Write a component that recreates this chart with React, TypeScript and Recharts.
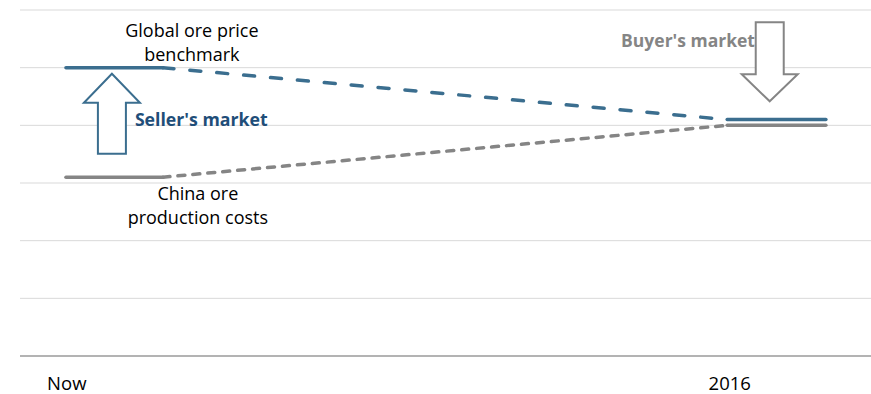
import React from "react";
import { LineChart, Line, XAxis, YAxis, CartesianGrid, ReferenceDot } from "recharts";

const xTickValues = [5.5, 83.4];
const xTickLabels = ["Now", "2016"];
const yTicks = [0, 1, 2, 3, 4, 5, 6];

const globalNow = [
  { x: 5.4, y: 5.0 },
  { x: 16.8, y: 5.0 },
];
const globalTransition = [
  { x: 16.8, y: 5.0 },
  { x: 83.1, y: 4.1 },
];
const global2016 = [
  { x: 83.1, y: 4.1 },
  { x: 94.7, y: 4.1 },
];
const chinaNow = [
  { x: 5.4, y: 3.1 },
  { x: 16.8, y: 3.1 },
];
const chinaTransition = [
  { x: 16.8, y: 3.1 },
  { x: 83.1, y: 4.0 },
];
const china2016 = [
  { x: 83.1, y: 4.0 },
  { x: 94.7, y: 4.0 },
];

const BLUE = "#3B6E8F";
const GRAY = "#858585";
const FONT = "'Open Sans', Lato, sans-serif";

const upArrow = (props: any) => {
  const { cx, cy } = props;
  const d = `M ${cx} ${cy - 40} L ${cx + 28} ${cy - 11} L ${cx + 14} ${cy - 11} L ${cx + 14} ${cy + 40} L ${cx - 14} ${cy + 40} L ${cx - 14} ${cy - 11} L ${cx - 28} ${cy - 11} Z`;
  return <path d={d} fill="#fff" stroke={BLUE} strokeWidth={2} />;
};

const downArrow = (props: any) => {
  const { cx, cy } = props;
  const d = `M ${cx} ${cy + 40} L ${cx + 28} ${cy + 13} L ${cx + 14} ${cy + 13} L ${cx + 14} ${cy - 39} L ${cx - 14} ${cy - 39} L ${cx - 14} ${cy + 13} L ${cx - 28} ${cy + 13} Z`;
  return <path d={d} fill="#fff" stroke={GRAY} strokeWidth={2} />;
};

const textShape = (lines: string[], opts: { fill: string; weight?: number; size?: number }) =>
  (props: any) => {
    const { cx, cy } = props;
    const size = opts.size ?? 18;
    const lh = 24;
    const start = cy - ((lines.length - 1) * lh) / 2;
    return (
      <text
        x={cx}
        y={start}
        textAnchor="middle"
        dominantBaseline="central"
        fill={opts.fill}
        fontFamily={FONT}
        fontSize={size}
        fontWeight={opts.weight ?? 400}
      >
        {lines.map((l, i) => (
          <tspan key={i} x={cx} y={start + i * lh} dominantBaseline="central">
            {l}
          </tspan>
        ))}
      </text>
    );
  };

export default function App() {
  return (
    <div style={{ position: "absolute", left: 0, top: 0, width: 871, height: 394, background: "#fff" }}>
      <LineChart width={871} height={394} margin={{ top: 10, right: 0, left: 20, bottom: 0 }}>
        <CartesianGrid vertical={false} stroke="#D9D9D9" strokeWidth={1} />
        <XAxis
          type="number"
          dataKey="x"
          height={38}
          domain={[0, 100]}
          ticks={xTickValues}
          tickFormatter={(v: number) => xTickLabels[xTickValues.indexOf(v)] ?? ""}
          tickLine={false}
          axisLine={{ stroke: "#A0A0A0", strokeWidth: 1.5 }}
          tickMargin={15}
          tick={{ fill: "#000", fontSize: 18.5, fontFamily: FONT }}
          allowDataOverflow
        />
        <YAxis hide width={0} type="number" domain={[0, 6]} ticks={yTicks} />
        <Line data={globalTransition} dataKey="y" stroke={BLUE} strokeWidth={3.5} strokeDasharray="11 16" strokeLinecap="round" dot={false} isAnimationActive={false} />
        <Line data={chinaTransition} dataKey="y" stroke={GRAY} strokeWidth={3.5} strokeDasharray="7 8" strokeLinecap="round" dot={false} isAnimationActive={false} />
        <Line data={globalNow} dataKey="y" stroke={BLUE} strokeWidth={3.5} strokeLinecap="round" dot={false} isAnimationActive={false} />
        <Line data={chinaNow} dataKey="y" stroke={GRAY} strokeWidth={3.5} strokeLinecap="round" dot={false} isAnimationActive={false} />
        <Line data={china2016} dataKey="y" stroke={GRAY} strokeWidth={3.5} strokeLinecap="round" dot={false} isAnimationActive={false} />
        <Line data={global2016} dataKey="y" stroke={BLUE} strokeWidth={3.5} strokeLinecap="round" dot={false} isAnimationActive={false} />
        <ReferenceDot x={10.8} y={4.2} r={0} shape={upArrow} />
        <ReferenceDot x={88.1} y={5.11} r={0} shape={downArrow} />
        <ReferenceDot x={20.2} y={5.44} r={0} shape={textShape(["Global ore price", "benchmark"], { fill: "#000" })} />
        <ReferenceDot x={20.9} y={2.62} r={0} shape={textShape(["China ore", "production costs"], { fill: "#000" })} />
        <ReferenceDot x={21.3} y={4.11} r={0} shape={textShape(["Seller's market"], { fill: "#1F4E79", weight: 700, size: 17.7 })} />
        <ReferenceDot x={78.5} y={5.48} r={0} shape={textShape(["Buyer's market"], { fill: GRAY, weight: 700, size: 17.5 })} />
      </LineChart>
    </div>
  );
}
